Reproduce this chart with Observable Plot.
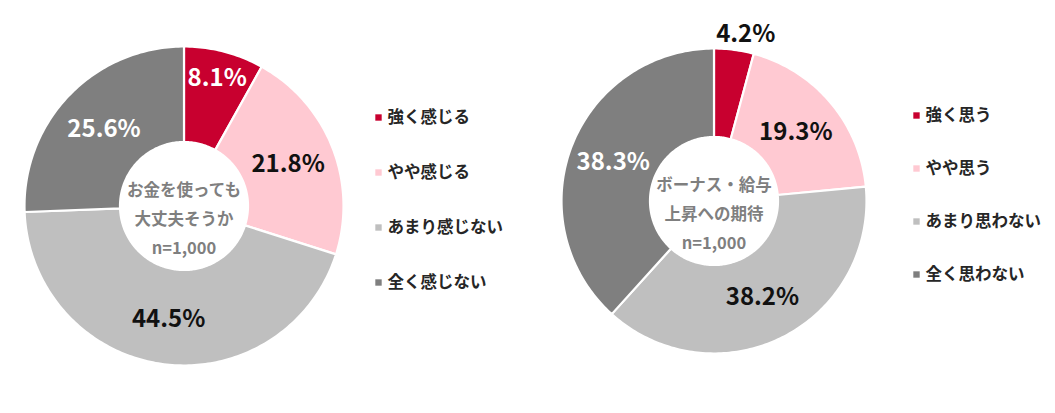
<!DOCTYPE html>
<html>
<head>
<meta charset="utf-8">
<script src="https://cdn.jsdelivr.net/npm/d3@7"></script>
<script src="https://cdn.jsdelivr.net/npm/@observablehq/plot@0.6"></script>
<style>
  html, body { margin: 0; padding: 0; background: #fff; }
  svg { display: block; }
</style>
</head>
<body>
<div id="chart"></div>
<script>
// ---- data ----
const leftLevels = ["強く感じる", "やや感じる", "あまり感じない", "全く感じない"];
const leftValues = [8.1, 21.8, 44.5, 25.6];
const leftCenter = ["お金を使っても", "大丈夫そうか", "n=1,000"];

const rightLevels = ["強く思う", "やや思う", "あまり思わない", "全く思わない"];
const rightValues = [4.2, 19.3, 38.2, 38.3];
const rightCenter = ["ボーナス・給与", "上昇への期待", "n=1,000"];

const colors = ["#C8002F", "#FFC9D2", "#BFBFBF", "#7F7F7F"];

// ---- layout ----
const W = 1055, H = 413;
const donuts = [
  {levels: leftLevels, values: leftValues, center: leftCenter,
   cx: 183.5, cy: 205.5, ro: 159.5, ri: 64, labelR: [132, 112, 114, 111],
   legX: 378, legY: 117, legStep: 55},
  {levels: rightLevels, values: rightValues, center: rightCenter,
   cx: 713.5, cy: 200.5, ro: 152.5, ri: 64, labelR: [170, 107, 108, 108],
   labelShift: [3.2, 0, 0, 0],
   legX: 916, legY: 115, legStep: 53}
];
const labelColors = ["#fff", "#111", "#111", "#fff"];

const ringPts = [], labels = [], centerTexts = [], legend = [];
donuts.forEach((d, di) => {
  const total = d3.sum(d.values);
  let acc = 0;
  d.values.forEach((v, i) => {
    const a0 = acc / total * 2 * Math.PI;
    acc += v;
    const a1 = acc / total * 2 * Math.PI;
    const n = Math.max(4, Math.ceil((a1 - a0) / (Math.PI / 180)));
    const key = di + "-" + i;
    for (let k = 0; k <= n; k++) {
      const a = a0 + (a1 - a0) * k / n;
      ringPts.push({key, level: i, x: d.cx + d.ro * Math.sin(a), y: d.cy - d.ro * Math.cos(a)});
    }
    for (let k = n; k >= 0; k--) {
      const a = a0 + (a1 - a0) * k / n;
      ringPts.push({key, level: i, x: d.cx + d.ri * Math.sin(a), y: d.cy - d.ri * Math.cos(a)});
    }
    let am = (a0 + a1) / 2 + ((d.labelShift ? d.labelShift[i] : 0) * Math.PI / 180);
    const r = d.labelR[i];
    const outside = r > d.ro;
    labels.push({
      text: v.toFixed(1) + "%",
      x: d.cx + r * Math.sin(am), y: d.cy - r * Math.cos(am),
      color: outside ? "#111" : labelColors[i]
    });
    legend.push({level: i, text: d.levels[i], x: d.legX, y: d.legY + i * d.legStep});
  });
  centerTexts.push({text: d.center.join("\n"), x: d.cx, y: d.cy + 10});
});

const plot = Plot.plot({
  width: W, height: H,
  margin: 0,
  x: {domain: [0, W], range: [0, W], axis: null},
  y: {domain: [0, H], range: [0, H], axis: null},
  color: {type: "ordinal", domain: [0, 1, 2, 3], range: colors},
  style: {fontFamily: "'Noto Sans CJK JP', 'Noto Sans', sans-serif", background: "#fff"},
  marks: [
    Plot.line(ringPts, {x: "x", y: "y", z: "key", fill: "level", stroke: "#fff", strokeWidth: 2.2, curve: "linear-closed"}),
    Plot.text(labels, {x: "x", y: "y", text: "text", fill: d => d.color, fontSize: 24, fontWeight: 600}),
    Plot.text(centerTexts, {x: "x", y: "y", text: "text", fill: "#7F7F7F", fontSize: 16.5, fontWeight: "bold", lineHeight: 1.75}),
    Plot.dot(legend, {x: "x", y: "y", fill: "level", symbol: "square", r: 3.6}),
    Plot.text(legend, {x: "x", y: "y", text: "text", dx: 9, textAnchor: "start", fill: "#262626", fontSize: 16.5, fontWeight: "bold"})
  ]
});
document.getElementById("chart").appendChild(plot);
</script>
</body>
</html>
